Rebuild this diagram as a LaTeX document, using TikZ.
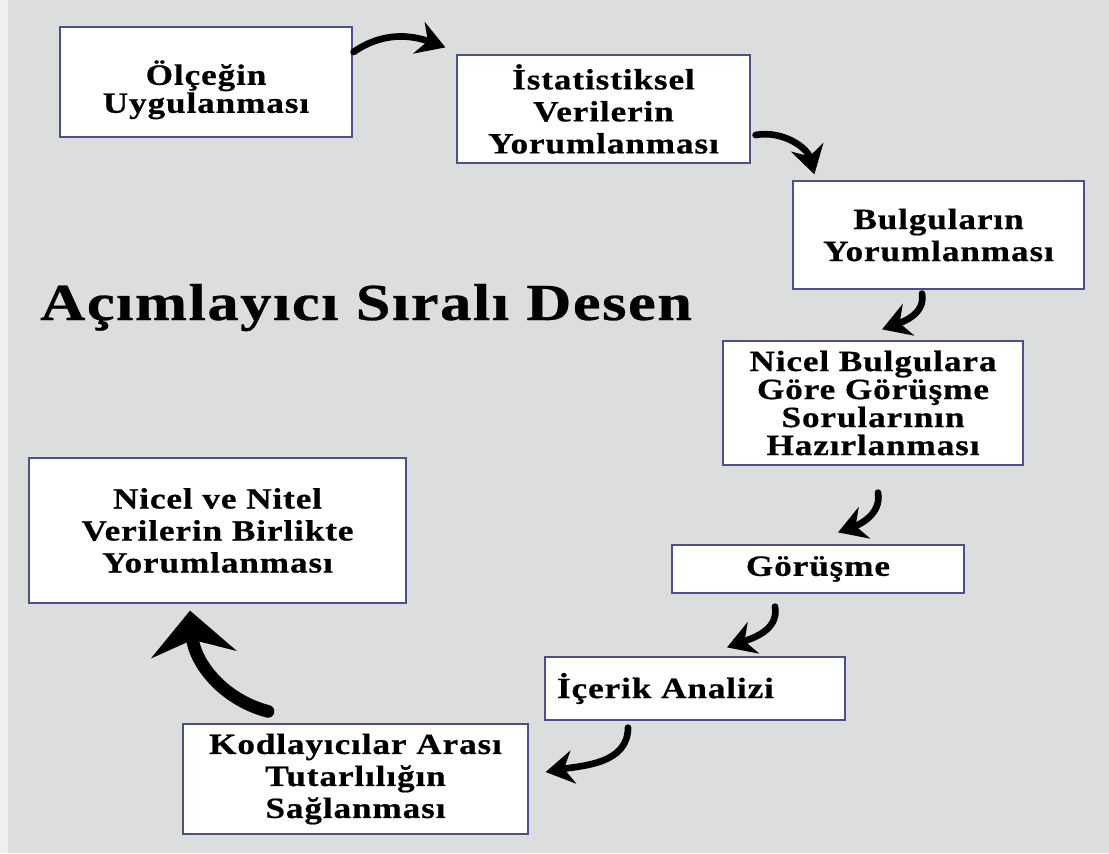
\documentclass[tikz,border=0pt]{standalone}
\usepackage{fontspec}
\setmainfont{Liberation Serif}[FakeStretch=1.2, LetterSpace=3, BoldFeatures={FakeBold=0.6}]
\usetikzlibrary{arrows.meta}
\definecolor{bg}{HTML}{DCDEDD}
\definecolor{boxline}{HTML}{4B4F8C}
\tikzset{
  box/.style={draw=boxline, line width=0.9pt, fill=white, align=center, inner sep=0pt,
    font=\fontsize{22}{24}\selectfont\bfseries},
  flow/.style={line width=5pt, line cap=round, -{Stealth[length=21pt, width=25pt, inset=7pt]}},
  flowbig/.style={line width=9.5pt, line cap=round, -{Stealth[length=33pt, width=64pt, inset=11pt]}},
}

\begin{document}
\begin{tikzpicture}[x=0.75pt, y=0.75pt]
\path [fill=bg] (0,0) rectangle (1109,-853);
\path [fill=white!55!bg] (0,0) rectangle (8,-853);
\path [use as bounding box] (0,0) rectangle (1109,-853);

% steps
\node [box, minimum width=219pt, minimum height=82.5pt, font=\fontsize{22}{21}\selectfont\bfseries] (olcek) at (206,-82) {\rule{0pt}{30pt}Ölçeğin\\Uygulanması};
\node [box, minimum width=219.75pt, minimum height=81pt] (istat) at (603.5,-109) {İstatistiksel\\Verilerin\\Yorumlanması};
\node [box, minimum width=218.25pt, minimum height=81pt] (bulgu) at (938.5,-235) {Bulguların\\Yorumlanması};
\node [box, minimum width=225pt, minimum height=93pt, font=\fontsize{22}{21}\selectfont\bfseries] (soru) at (873,-403) {Nicel Bulgulara\\Göre Görüşme\\Sorularının\\Hazırlanması};
\node [box, minimum width=219pt, minimum height=36pt] (gorusme) at (818,-569) {Görüşme};
\node [box, minimum height=47.25pt, text width=207pt, inner xsep=9pt, align=left] (icerik) at (695,-688.5) {İçerik Analizi};
\node [box, minimum width=258.75pt, minimum height=82.5pt] (kodlama) at (355.5,-779) {Kodlayıcılar Arası\\Tutarlılığın\\Sağlanması};
\node [box, minimum width=282.75pt, minimum height=108.75pt] (birlikte) at (217.5,-530.5) {Nicel ve Nitel\\Verilerin Birlikte\\Yorumlanması};

\node [anchor=base west, inner sep=0pt, font=\fontsize{39}{46}\selectfont\bfseries] (title) at (40,-320) {Açımlayıcı Sıralı Desen};

% arrows
\draw [flow] ([shift={(1,30)}]olcek.east) to[out=35, in=160] ([shift={(-11,7)}]istat.north west);
\draw [flow] ([shift={(5,-26)}]istat.east) to[out=10, in=105] ([shift={(22,6)}]bulgu.north west);
\draw [flow] ([shift={(-16.5,-4)}]bulgu.south) to[out=-80, in=20] ([shift={(9,11)}]soru.north);
\draw [flow] ([shift={(5,-27)}]soru.south) to[out=-80, in=20] ([shift={(20,12)}]gorusme.north);
\draw [flow] ([shift={(-43,-13)}]gorusme.south) to[out=-80, in=20] ([shift={(32,9)}]icerik.north);
\draw [flow] ([shift={(-67,-7)}]icerik.south) to[out=-90, in=10] ([shift={(17,7)}]kodlama.east);
\draw [flowbig] ([shift={(-87.5,12)}]kodlama.north) to[out=165, in=-85] ([shift={(-27.5,-7)}]birlikte.south);
\end{tikzpicture}
\end{document}
